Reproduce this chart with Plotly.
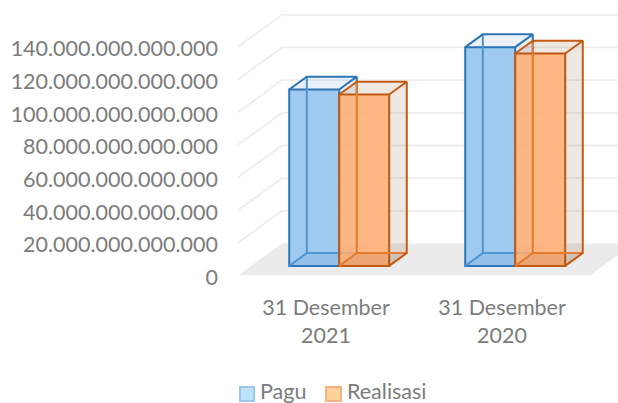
import plotly.graph_objects as go

categories = ["31 Desember<br>2021", "31 Desember<br>2020"]
pagu = [108.0e12, 133.9e12]
realisasi = [104.9e12, 130.0e12]
tick_values = [0, 20e12, 40e12, 60e12, 80e12, 100e12, 120e12, 140e12]
tick_labels = ["0", "20.000.000.000.000", "40.000.000.000.000", "60.000.000.000.000",
               "80.000.000.000.000", "100.000.000.000.000", "120.000.000.000.000", "140.000.000.000.000"]

FONT = "Lato"
FS = 21.5
GREY = "#7C7C7C"
WIDTH, HEIGHT = 618, 403
DX, DY = 0.25, 19.6e12      # oblique shift of one full depth, in axis units
D0, D1 = 0.3, 0.7           # depth extent of the boxes
W = 0.284                   # box width in category units
XMIN, XMAX = -0.5, 1.5      # category band of the floor
XR = [(225 - 326) / 176, (618 - 326) / 176]
YR = [0, 165.6e12]
XDOM = [225 / WIDTH, 1]
YDOM = [(HEIGHT - 275.5) / HEIGHT, (HEIGHT - 5) / HEIGHT]


def px(c, d):
    return c + d * DX


def py(v, d):
    return v + d * DY


fig = go.Figure()


def poly(xs, ys, fill=None, line=None, width=2, ax=("x", "y")):
    fig.add_trace(go.Scatter(
        x=xs, y=ys, mode="lines", showlegend=False, hoverinfo="skip",
        xaxis=ax[0], yaxis=ax[1],
        fill="toself" if fill else None, fillcolor=fill,
        line=dict(color=line or "rgba(0,0,0,0)", width=width if line else 0, simplify=False),
    ))


# floor and walls
poly([px(XMIN, 0), px(XMAX, 0), px(XMAX, 1), px(XMIN, 1), px(XMIN, 0)],
     [py(0, 0), py(0, 0), py(0, 1), py(0, 1), py(0, 0)], fill="#EBEBEB")
for v in tick_values[1:]:
    poly([px(XMIN, 0), px(XMIN, 1), px(XMAX, 1)], [py(v, 0), py(v, 1), py(v, 1)], line="#EEEEEE", width=1.8)

series = [
    ("Pagu", pagu, -W / 2, "#A0C9EF", "#2E75B6", "#4E93D3", "rgba(46,117,182,0.10)", ("x2", "y2")),
    ("Realisasi", realisasi, W / 2, "rgba(255,170,110,0.85)", "#C55A11", "#E57B2E", "rgba(120,60,20,0.12)", ("x3", "y3")),
]

for name, values, off, front, edge, hidden, pale, ax in series:
    # front faces go through real bars
    fig.add_trace(go.Bar(
        x=[c + D0 * DX + off for c in range(len(categories))],
        y=values, base=[D0 * DY] * len(values), width=W,
        xaxis=ax[0], yaxis=ax[1],
        marker=dict(color=front, line=dict(color=edge, width=2)),
        showlegend=False, hoverinfo="skip", name=name,
    ))
    # receding faces and edges
    for c, v in enumerate(values):
        xl, xr = c + off - W / 2, c + off + W / 2
        poly([px(xl, D0), px(xr, D0), px(xr, D1), px(xl, D1), px(xl, D0)],
             [py(v, D0), py(v, D0), py(v, D1), py(v, D1), py(v, D0)], fill=pale, ax=ax)
        poly([px(xr, D0), px(xr, D1), px(xr, D1), px(xr, D0), px(xr, D0)],
             [py(0, D0), py(0, D1), py(v, D1), py(v, D0), py(0, D0)], fill=pale, ax=ax)
        poly([px(xl, D0), px(xr, D0), px(xr, D1), px(xl, D1), px(xl, D0)],
             [py(0, D0), py(0, D0), py(0, D1), py(0, D1), py(0, D0)], fill=pale, ax=ax)
        # edges seen through the translucent front
        poly([px(xl, D0), px(xl, D1), px(xr, D1)], [py(0, D0), py(0, D1), py(0, D1)], line=hidden, ax=ax)
        poly([px(xl, D1), px(xl, D1)], [py(0, D1), py(v, D1)], line=hidden, ax=ax)
        # visible edges
        poly([px(xl, D0), px(xl, D1), px(xr, D1), px(xr, D0)],
             [py(v, D0), py(v, D1), py(v, D1), py(v, D0)], line=edge, ax=ax)
        poly([px(xr, D1), px(xr, D1), px(xr, D0)],
             [py(v, D1), py(0, D1), py(0, D0)], line=edge, ax=ax)

# legend: real entries carry the text, keys are squares placed right next to it
fig.add_trace(go.Scatter(x=[None], y=[None], mode="markers", name="Pagu", legend="legend",
                         marker=dict(symbol="square", size=2, color="rgba(0,0,0,0)")))
fig.add_trace(go.Scatter(x=[None], y=[None], mode="markers", name="Realisasi", legend="legend2",
                         marker=dict(symbol="square", size=2, color="rgba(0,0,0,0)")))


def key(x0, x1, fill, edge):
    return dict(type="rect", xref="paper", yref="paper", x0=x0 / WIDTH, x1=x1 / WIDTH,
                y0=(HEIGHT - 401) / HEIGHT, y1=(HEIGHT - 387) / HEIGHT,
                fillcolor=fill, line=dict(color=edge, width=2))


hidden_axis = dict(range=XR, domain=XDOM, visible=False, fixedrange=True)
hidden_yaxis = dict(range=YR, domain=YDOM, visible=False, fixedrange=True)
legend_common = dict(xref="container", yref="container", xanchor="left", yanchor="middle",
                     y=(HEIGHT - 390.5) / HEIGHT,
                     font=dict(size=FS, color=GREY), bgcolor="rgba(0,0,0,0)", itemwidth=30)
fig.update_layout(
    width=WIDTH, height=HEIGHT, autosize=False,
    margin=dict(l=0, r=0, t=0, b=0, pad=0, autoexpand=False),
    paper_bgcolor="white", plot_bgcolor="white",
    font=dict(family=FONT, size=FS, color=GREY),
    barmode="overlay",
    shapes=[key(240, 254, "#BDE4FF", "#9DC6EA"), key(326, 341, "#FFD29C", "#F4B183")],
    legend=dict(legend_common, x=220 / WIDTH),
    legend2=dict(legend_common, x=307 / WIDTH),
    xaxis=dict(range=XR, domain=XDOM, tickmode="array", tickvals=[0, 1],
               ticktext=categories, showgrid=False, zeroline=False, showline=False, ticks="",
               ticklabelstandoff=17, tickfont=dict(size=FS, color=GREY)),
    yaxis=dict(range=YR, domain=YDOM, tickmode="array", tickvals=tick_values, ticktext=tick_labels,
               showgrid=False, zeroline=False, showline=False, ticks="",
               ticklabelstandoff=6, ticklabelshift=2, tickfont=dict(size=FS, color=GREY)),
    xaxis2=dict(hidden_axis, overlaying="x", anchor="y2"),
    yaxis2=dict(hidden_yaxis, overlaying="y", anchor="x2"),
    xaxis3=dict(hidden_axis, overlaying="x", anchor="y3"),
    yaxis3=dict(hidden_yaxis, overlaying="y", anchor="x3"),
)

fig.write_html("out.html", config={"displayModeBar": False},
               post_script="document.body.style.margin='0';")
